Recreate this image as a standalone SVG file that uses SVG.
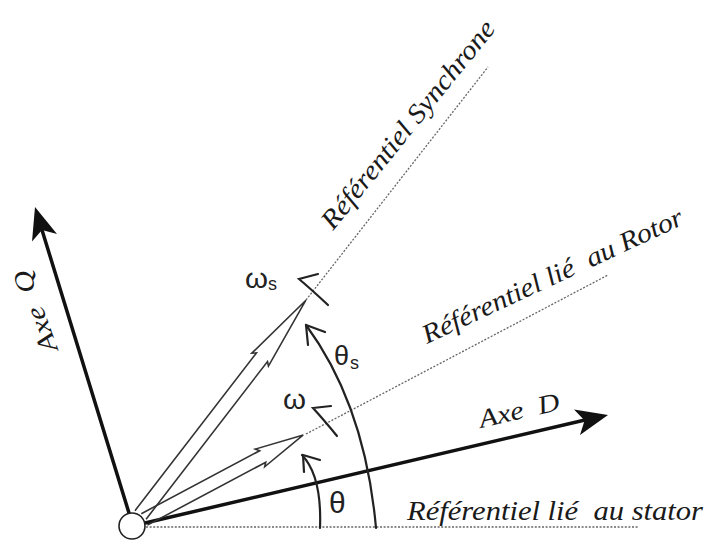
<svg xmlns="http://www.w3.org/2000/svg" width="713" height="544" viewBox="0 0 713 544">
  <style>
    .axis { stroke: #111; stroke-width: 3.5; fill: none; stroke-linecap: round; }
    .head { fill: #111; stroke: none; }
    .dot { stroke: #666; stroke-width: 1.3; fill: none; stroke-dasharray: 2 1.6; }
    .hollow { stroke: #333; stroke-width: 1.6; fill: none; stroke-linejoin: miter; }
    .arc { stroke: #222; stroke-width: 2.2; fill: none; stroke-linecap: round; }
    .lbl { font-family: "Liberation Serif", serif; font-style: italic; fill: #1a1a1a; }
    .sym { font-family: "Liberation Sans", sans-serif; fill: #222; }
  </style>
  <rect width="713" height="544" fill="#fff"/>

  <g id="connectors">
    <!-- reference lines -->
    <path id="ref-stator" class="dot" d="M146,527 L638,527"/>
    <path id="ref-rotor" class="dot" d="M306,434 L608,275"/>
    <path id="ref-sync" class="dot" d="M306,300 L488,67"/>

    <!-- Axe Q -->
    <path class="axis" d="M129,513 L42,230"/>
    <polygon class="head" points="35,207 57,234 42,230 32,241.5"/>
    <!-- Axe D -->
    <path class="axis" d="M145,523 L585,420"/>
    <polygon class="head" points="608,415 580,435 584.6,420.4 574,409.6"/>

    <!-- hollow arrows -->
    <path class="hollow" transform="translate(132,526) rotate(-52.4)" d="M14,-7 L213,-7 L210,-10.5 L285,0 L210,10.5 L213,7 L14,7"/>
    <path class="hollow" transform="translate(132,526) rotate(-28)" d="M14,-6.5 L148,-6.5 L145,-10 L194,0 L145,10 L148,6.5 L14,6.5"/>

    <!-- angle arcs -->
    <path class="arc" d="M320,528 Q322,476 302,455"/>
    <path class="arc" d="M303,455 L320,460 M303,455 L304,472"/>
    <path class="arc" d="M376,528 Q365,405 306,325"/>
    <path class="arc" d="M306,325 L325,332 M306,325 L308,345"/>

    <!-- rotation arrows -->
    <path class="arc" d="M328,305 Q312,290 299,279 L318,274"/>
    <path class="arc" d="M337,436 Q324,420 313,408 L331,406"/>
  </g>

  <g id="origin">
    <circle cx="132" cy="526" r="13" fill="#fff" stroke="#222" stroke-width="1.6"/>
  </g>

  <g id="labels">
    <text class="lbl" font-size="26" x="58" y="349" textLength="86" lengthAdjust="spacingAndGlyphs" transform="rotate(-110 58 349)">Axe&#160; Q</text>
    <text class="lbl" font-size="26" x="481" y="428" textLength="82" lengthAdjust="spacingAndGlyphs" transform="rotate(-13 481 428)">Axe&#160; D</text>
    <text class="lbl" font-size="27" x="333" y="231" textLength="260" lengthAdjust="spacingAndGlyphs" transform="rotate(-51 333 231)">Référentiel Synchrone</text>
    <text class="lbl" font-size="27" x="427" y="344" textLength="285" lengthAdjust="spacingAndGlyphs" transform="rotate(-25 427 344)">Référentiel lié&#160; au Rotor</text>
    <text class="lbl" font-size="28" x="407" y="520" textLength="296" lengthAdjust="spacingAndGlyphs">Référentiel lié&#160; au stator</text>

    <text class="sym" font-size="28" x="245" y="288" textLength="23" lengthAdjust="spacingAndGlyphs">ω</text>
    <text class="sym" font-size="18" x="268" y="290">s</text>
    <text class="sym" font-size="28" x="283" y="409" textLength="23" lengthAdjust="spacingAndGlyphs">ω</text>
    <text class="sym" font-size="27" x="334" y="365">θ</text>
    <text class="sym" font-size="18" x="350" y="369">s</text>
    <text class="sym" font-size="30" x="329" y="513">θ</text>
  </g>
</svg>
